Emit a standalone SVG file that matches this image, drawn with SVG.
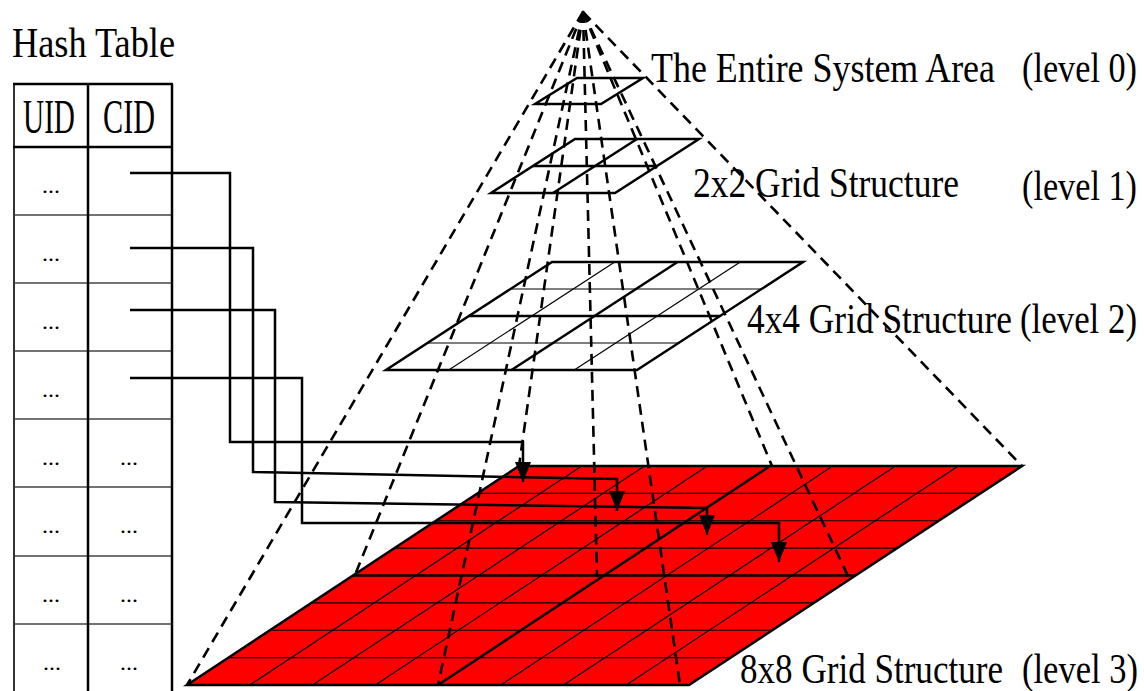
<svg xmlns="http://www.w3.org/2000/svg" width="1144" height="691" viewBox="0 0 1144 691">
<style>
text{font-family:"Liberation Serif","Times New Roman",serif;fill:#000}
.lbl{font-size:35px}
.hdr{font-size:29px}
.dots{font-size:22px}
.thick{stroke:#000;stroke-width:2.5;fill:none;stroke-linejoin:miter}
.thin{stroke:#000;stroke-width:1.2;fill:none}
.tab{stroke:#000;stroke-width:2.5;fill:none}
.row{stroke:#444;stroke-width:1.5}
.dash{stroke:#000;stroke-width:2.6;fill:none;stroke-dasharray:11 7}
.conn{stroke:#000;stroke-width:2.5;fill:none}
</style>
<defs>
<marker id="arr" markerUnits="userSpaceOnUse" markerWidth="22" markerHeight="18" viewBox="0 0 22 18" refX="20" refY="9" orient="auto">
<path d="M0,1 L20,9 L0,17 z" fill="#000"/>
</marker>
</defs>
<rect width="1144" height="691" fill="#fff"/>

<g id="hash-table">
<text class="lbl" transform="translate(12,57) scale(1,1.2)" textLength="163" lengthAdjust="spacingAndGlyphs">Hash Table</text>
<line class="row" x1="14" y1="215" x2="172" y2="215"/>
<line class="row" x1="14" y1="283" x2="172" y2="283"/>
<line class="row" x1="14" y1="351" x2="172" y2="351"/>
<line class="row" x1="14" y1="419" x2="172" y2="419"/>
<line class="row" x1="14" y1="487" x2="172" y2="487"/>
<line class="row" x1="14" y1="556" x2="172" y2="556"/>
<line class="row" x1="14" y1="624" x2="172" y2="624"/>
<line x1="14" y1="84" x2="14" y2="691" stroke="#333" stroke-width="2"/>
<line class="tab" x1="88" y1="84" x2="88" y2="691"/>
<line class="tab" x1="172" y1="84" x2="172" y2="691"/>
<line class="tab" x1="13" y1="84" x2="173" y2="84"/>
<line class="tab" x1="13" y1="147" x2="173" y2="147"/>
<text class="hdr" transform="translate(23,133) scale(1,1.65)" textLength="52" lengthAdjust="spacingAndGlyphs">UID</text>
<text class="hdr" transform="translate(103,133) scale(1,1.65)" textLength="52" lengthAdjust="spacingAndGlyphs">CID</text>
<text class="dots" x="42" y="193" textLength="18" lengthAdjust="spacingAndGlyphs">...</text>
<text class="dots" x="42" y="261" textLength="18" lengthAdjust="spacingAndGlyphs">...</text>
<text class="dots" x="42" y="329" textLength="18" lengthAdjust="spacingAndGlyphs">...</text>
<text class="dots" x="42" y="397" textLength="18" lengthAdjust="spacingAndGlyphs">...</text>
<text class="dots" x="42" y="465" textLength="18" lengthAdjust="spacingAndGlyphs">...</text>
<text class="dots" x="42" y="533" textLength="18" lengthAdjust="spacingAndGlyphs">...</text>
<text class="dots" x="42" y="602" textLength="18" lengthAdjust="spacingAndGlyphs">...</text>
<text class="dots" x="43" y="670" textLength="18" lengthAdjust="spacingAndGlyphs">...</text>
<text class="dots" x="120" y="465" textLength="18" lengthAdjust="spacingAndGlyphs">...</text>
<text class="dots" x="120" y="533" textLength="18" lengthAdjust="spacingAndGlyphs">...</text>
<text class="dots" x="120" y="602" textLength="18" lengthAdjust="spacingAndGlyphs">...</text>
<text class="dots" x="120" y="670" textLength="18" lengthAdjust="spacingAndGlyphs">...</text>
</g>

<g id="level3">
<polygon points="519,466 1022,466 689,685 187,685" fill="#ff0000"/>
<g class="thin">
<line x1="477.5" y1="493.4" x2="979.5" y2="493.4"/>
<line x1="436" y1="520.75" x2="938" y2="520.75"/>
<line x1="394.5" y1="548.1" x2="896.5" y2="548.1"/>
<line x1="311.5" y1="602.9" x2="813.5" y2="602.9"/>
<line x1="270" y1="630.25" x2="772" y2="630.25"/>
<line x1="228.5" y1="657.6" x2="730.5" y2="657.6"/>
<line x1="581.75" y1="466" x2="249.75" y2="685"/>
<line x1="644.5" y1="466" x2="312.5" y2="685"/>
<line x1="707.25" y1="466" x2="375.25" y2="685"/>
<line x1="832.75" y1="466" x2="500.75" y2="685"/>
<line x1="895.5" y1="466" x2="563.5" y2="685"/>
<line x1="958.25" y1="466" x2="626.25" y2="685"/>
</g>
<line class="thick" x1="353" y1="575.5" x2="855" y2="575.5"/>
<line class="thick" x1="770" y1="466" x2="438" y2="685"/>
<polygon class="thick" points="519,466 1022,466 689,685 187,685"/>
<text class="lbl" transform="translate(740,683) scale(1,1.2)" textLength="263" lengthAdjust="spacingAndGlyphs">8x8 Grid Structure</text>
<text class="lbl" transform="translate(1022,683) scale(1,1.2)" textLength="116" lengthAdjust="spacingAndGlyphs">(level 3)</text>
</g>

<g id="level2">
<g class="thin">
<line x1="510.5" y1="289" x2="761.5" y2="289"/>
<line x1="427.5" y1="343" x2="678.5" y2="343"/>
<line x1="614.75" y1="262" x2="448.75" y2="370"/>
<line x1="740.25" y1="262" x2="574.25" y2="370"/>
</g>
<line class="thick" x1="469" y1="316" x2="720" y2="316"/>
<line class="thick" x1="677.5" y1="262" x2="511.5" y2="370"/>
<polygon class="thick" points="552,262 803,262 637,370 386,370"/>
<text class="lbl" transform="translate(747,333) scale(1,1.2)" textLength="265" lengthAdjust="spacingAndGlyphs">4x4 Grid Structure</text>
<text class="lbl" transform="translate(1020,333) scale(1,1.2)" textLength="117" lengthAdjust="spacingAndGlyphs">(level 2)</text>
</g>

<g id="level1">
<line class="thick" x1="533" y1="166" x2="657" y2="166"/>
<line class="thick" x1="637" y1="139" x2="553" y2="193"/>
<polygon class="thick" points="575,139 699,139 615,193 491,193"/>
<text class="lbl" transform="translate(693,197) scale(1,1.2)" textLength="266" lengthAdjust="spacingAndGlyphs">2x2 Grid Structure</text>
<text class="lbl" transform="translate(1022,200) scale(1,1.2)" textLength="115" lengthAdjust="spacingAndGlyphs">(level 1)</text>
</g>

<g id="level0">
<polygon class="thick" points="577,78 643,78 601,104 535,104"/>
<text class="lbl" transform="translate(651,82) scale(1,1.2)" textLength="344" lengthAdjust="spacingAndGlyphs">The Entire System Area</text>
<text class="lbl" transform="translate(1022,82) scale(1,1.2)" textLength="115" lengthAdjust="spacingAndGlyphs">(level 0)</text>
</g>

<g id="pyramid-edges">
<polygon points="583,10 577,21 590,21" fill="#000"/>
<line class="dash" x1="583" y1="12" x2="519" y2="466"/>
<line class="dash" x1="583" y1="12" x2="772" y2="466"/>
<line class="dash" x1="583" y1="12" x2="1022" y2="466"/>
<line class="dash" x1="583" y1="12" x2="355" y2="575"/>
<line class="dash" x1="583" y1="12" x2="597" y2="577"/>
<line class="dash" x1="583" y1="12" x2="848" y2="576"/>
<line class="dash" x1="583" y1="12" x2="187" y2="685"/>
<line class="dash" x1="583" y1="12" x2="438" y2="685"/>
<line class="dash" x1="583" y1="12" x2="680" y2="685"/>
</g>

<g id="connectors">
<path class="conn" d="M130,173 H230 V442 H523 V482" marker-end="url(#arr)"/>
<path class="conn" d="M130,248 H253 V472 L617,479 V511" marker-end="url(#arr)"/>
<path class="conn" d="M130,310 H275 V502 L707,508 V535" marker-end="url(#arr)"/>
<path class="conn" d="M130,378 H302 V523 H779 V562" marker-end="url(#arr)"/>
</g>
</svg>
